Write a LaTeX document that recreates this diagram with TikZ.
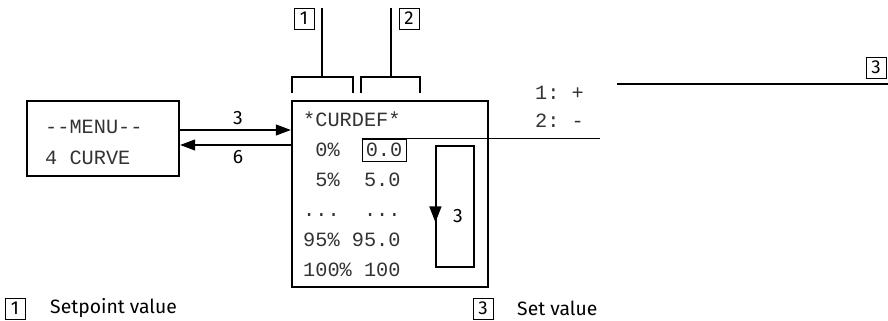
\documentclass[tikz,border=0pt]{standalone}
\usepackage{fontspec}
\setmonofont{Liberation Mono}
\setsansfont{Fira Sans}
\usetikzlibrary{arrows.meta,positioning,calc}

\tikzset{
  lcdtext/.style={font=\fontsize{17.3}{20}\selectfont\ttfamily, text=black!80, inner sep=0pt, anchor=base west},
  callout/.style={draw, line width=0.8pt, font=\fontsize{16}{19}\selectfont\sffamily,
    minimum width=0.6cm, minimum height=0.63cm, inner sep=0pt},
  legendtext/.style={font=\fontsize{16.5}{19}\selectfont\sffamily, inner sep=0pt, anchor=west},
  panel/.style={draw, line width=2pt, inner sep=0pt},
  arr/.style={line width=0.9pt, -{Triangle[length=0.45cm, width=0.33cm]}},
  leader/.style={line width=1pt},
}

\begin{document}
\begin{tikzpicture}[x=0.03cm, y=-0.03cm]
  \useasboundingbox (0,0) rectangle (888,321);

  % MENU panel
  \node[panel, minimum width=4.56cm, minimum height=2.25cm] (menu) at (103,138.5) {};
  \node[lcdtext] (menutitle) at (45,134) {-{}-MENU-{}-};
  \node[lcdtext] (menucurve) at (45,165) {4 CURVE};

  % CURDEF panel
  \node[panel, minimum width=5.88cm, minimum height=5.58cm] (lcd) at (390,194) {};
  \node[lcdtext] (title) at (303,127) {*CURDEF*};
  \node[lcdtext] (row0) at (303,157) {~0\%};
  \node[draw, line width=0.8pt, font=\fontsize{17.3}{20}\selectfont\ttfamily, text=black!80, inner sep=0pt,
    minimum width=1.32cm, minimum height=0.66cm] (setval) at (384,150) {0.0};
  \node[lcdtext] (row1) at (303,187) {~5\%~~5.0};
  \node[lcdtext] (row2) at (303,217) {...~~...};
  \node[lcdtext] (row3) at (303,247) {95\%~95.0};
  \node[lcdtext] (row4) at (303,277) {100\%~100};

  % scroll bar
  \node[draw, line width=1pt, minimum width=1.14cm, minimum height=3.63cm] (scroll) at (455,206.5) {};
  \draw[line width=1.2pt, -{Triangle[length=0.48cm, width=0.36cm]}]
    ($(scroll.north west)+(0,31)$) -- ($(scroll.north west)+(0,77)$);
  \node[legendtext, anchor=center] (scrolllbl) at (458,216) {3};

  % menu <-> CURDEF
  \coordinate (in3) at (292,130);
  \coordinate (out6) at (292,145);
  \draw[arr] (menu.east |- in3) -- (lcd.west |- in3);
  \draw[arr] (lcd.west |- out6) -- (menu.east |- out6);
  \node[legendtext, anchor=center] (lbl3) at (238,118) {3};
  \node[legendtext, anchor=center] (lbl6) at (238,157) {6};

  % keys
  \node[lcdtext] (keyup) at (535,100) {1:~+};
  \node[lcdtext] (keydown) at (535,128) {2:~-};
  \coordinate (setend) at (600,139);
  \draw[line width=0.9pt] (setval.north west) -- (setval.north west -| setend);

  % callouts
  \node[callout] (c1) at (304,18.5) {1};
  \node[callout] (c2) at (409,18.5) {2};
  \node[callout] (c3) at (876,67.5) {3};
  \coordinate (b1) at (322,77);
  \coordinate (b2) at (391,77);
  \draw[leader] (292,93) -- (292,77) -- (353,77) -- (353,93);
  \draw[leader] (361,93) -- (361,77) -- (420,77) -- (420,93);
  \draw[leader] (b1) -- (b1 |- c1.north);
  \draw[leader] (b2) -- (b2 |- c2.north);
  \coordinate (c3line) at (617,84);
  \draw[leader] (c3line) -- (888,84);

  % legend
  \node[callout] (l1) at (15,308.5) {1};
  \node[legendtext] (l1text) at (50,308.5) {Setpoint value};
  \node[callout] (l3) at (483,308.5) {3};
  \node[legendtext] (l3text) at (517,308.5) {Set value};
\end{tikzpicture}
\end{document}
